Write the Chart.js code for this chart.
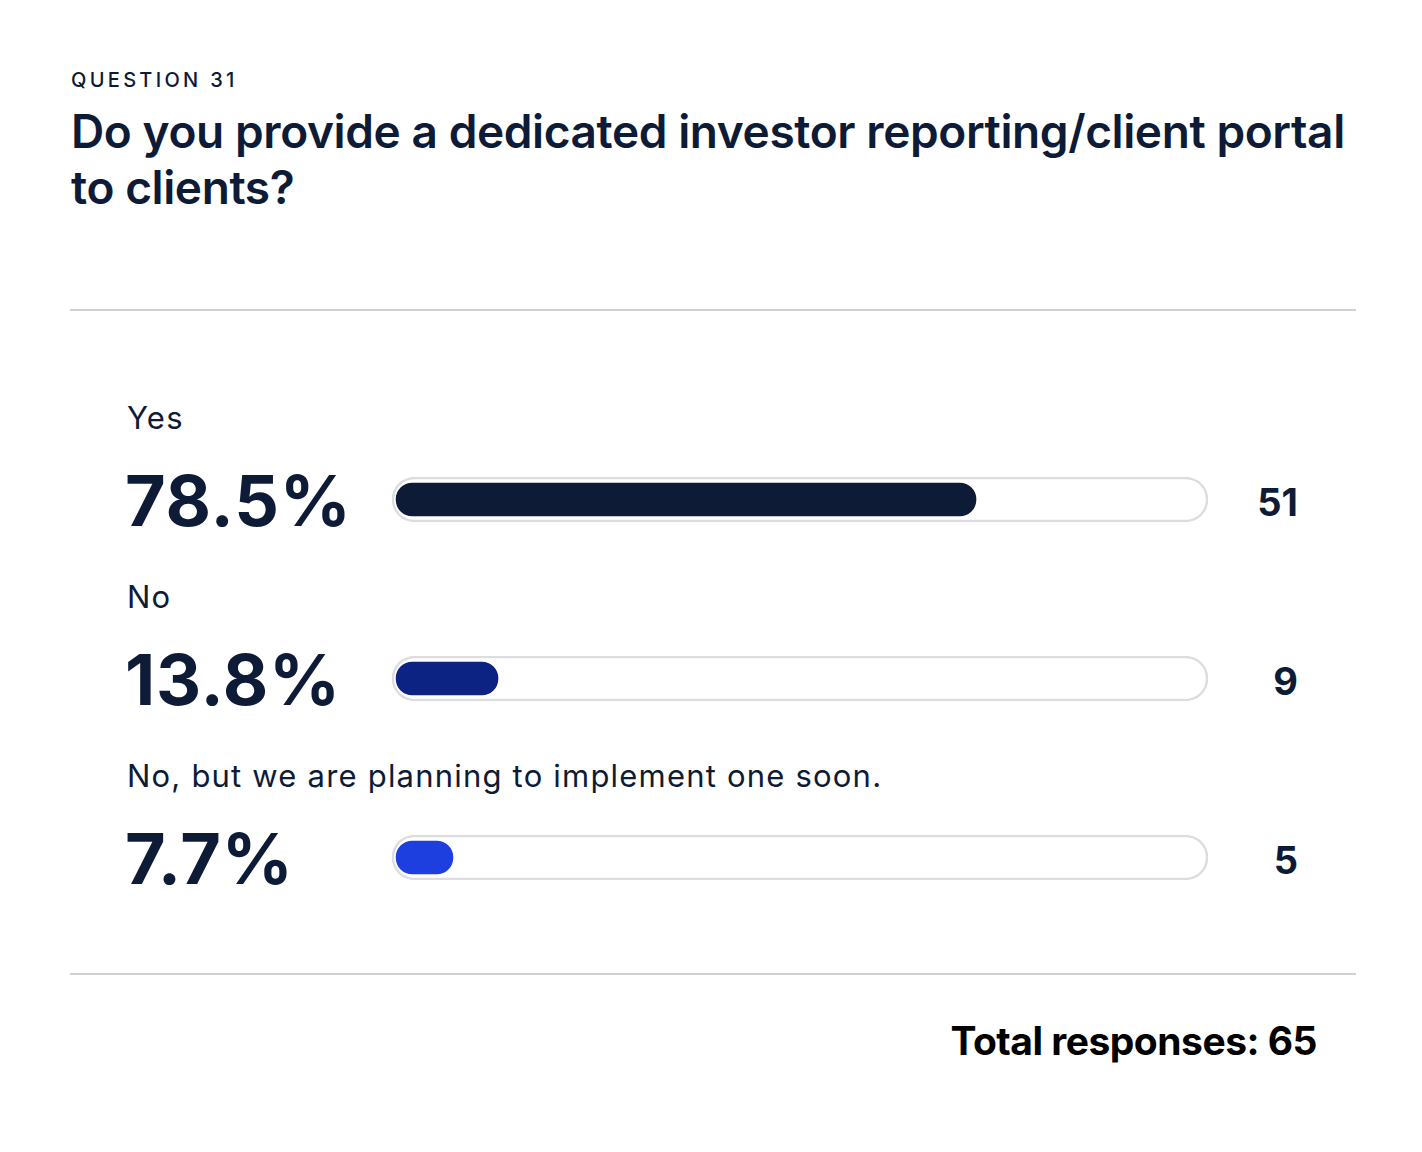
<!DOCTYPE html>
<html>
<head>
<meta charset="utf-8">
<script src="https://cdn.jsdelivr.net/npm/chart.js@4"></script>
<style>
    html, body { margin: 0; padding: 0; background: #ffffff; }
    body { width: 1422px; height: 1152px; position: relative; font-family: Inter, "Noto Sans", sans-serif; color: #0d1b36; overflow: hidden; }
    .abs { position: absolute; white-space: nowrap; }
    #kicker { left: 71px; top: 68px; font-size: 20px; font-weight: 500; letter-spacing: 3.3px; }
    #title { left: 71px; top: 103px; font-size: 46px; font-weight: 600; line-height: 56px; letter-spacing: -0.4px; }
    .rule { position: absolute; left: 70px; width: 1286px; height: 2px; background: #d0d1d5; }
    .label { left: 127px; font-size: 31px; font-weight: 400; letter-spacing: 1.2px; }
    .pct { left: 125px; font-size: 70px; font-weight: 700; letter-spacing: 0.8px; }
    .count { right: 124px; font-size: 38px; font-weight: 700; text-align: right; }
    #total { right: 105px; top: 1017px; font-size: 39px; font-weight: 700; color: #000; letter-spacing: -0.5px; }
    #barWrap { position: absolute; left: 392px; top: 410px; width: 816px; height: 537px; }
</style>
</head>
<body>
<div id="kicker" class="abs"></div>
<div id="title" class="abs"></div>
<div class="rule" style="top:309px"></div>
<div class="rule" style="top:973px"></div>
<div id="rows"></div>
<div id="barWrap"><canvas id="barChart"></canvas></div>
<div id="total" class="abs"></div>

<script>
// Survey question 31 - investor portal

const questionNo = 'QUESTION 31';
const questionLines = ['Do you provide a dedicated investor reporting/client portal', 'to clients?'];
const answers = ['Yes', 'No', 'No, but we are planning to implement one soon.'];
const percents = [78.5, 13.8, 7.7];
const counts = [51, 9, 5];
const totalResponses = 65;
const barColors = ['#0d1b36', '#0c2383', '#1d3fe0'];

document.getElementById('kicker').textContent = questionNo;
document.getElementById('title').innerHTML = questionLines.join('<br>');
document.getElementById('total').textContent = 'Total responses: ' + totalResponses;

// row text, one row every 179px
let html = '';
answers.forEach((a, i) => {
    const top = 399 + i * 179;
    html += `
        <div class="abs label" style="top:${top}px">${a}</div>
        <div class="abs pct" style="top:${top + 59}px">${percents[i].toFixed(1)}%</div>
        <div class="abs count" style="top:${top + 80}px">${counts[i]}</div>
    `;
});
document.getElementById('rows').innerHTML = html;

const xMin = -0.55;
const xMax = 109.9;

new Chart(document.getElementById('barChart'), {
    type: 'bar',
    data: {
        labels: answers,
        datasets: [
            {
                label: 'Share',
                data: percents,
                backgroundColor: barColors,
                barThickness: 33,
                borderRadius: 17,
                borderSkipped: false,
                grouped: false
            },
            {
                label: 'Track',
                data: answers.map(() => [xMin, xMax]),
                backgroundColor: '#ffffff',
                borderColor: '#dcdde1',
                borderWidth: 2.5,
                barThickness: 45,
                borderRadius: 23,
                borderSkipped: false,
                grouped: false
            }
        ]
    },
    options: {
        indexAxis: 'y',
        responsive: true,
        maintainAspectRatio: false,
        animation: false,
        layout: { padding: 0 },
        plugins: {
            legend: { display: false },
            tooltip: { enabled: false }
        },
        scales: {
            x: { display: false, min: xMin, max: xMax },
            y: { display: false }
        }
    }
});
</script>
</body>
</html>
